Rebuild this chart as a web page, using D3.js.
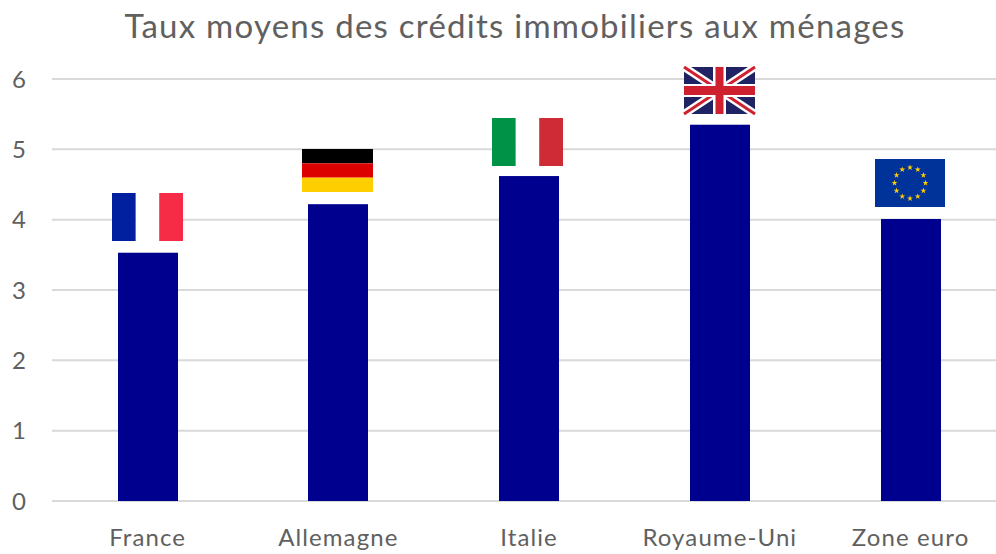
<!DOCTYPE html>
<html><head><meta charset="utf-8">
<style>html,body{margin:0;padding:0;background:#fff;overflow:hidden}svg{display:block}text{font-family:Lato,"Noto Sans",sans-serif;fill:#606060}</style>
<script src="https://cdn.jsdelivr.net/npm/d3@7"></script></head><body>
<svg id="c" width="996" height="554"></svg>
<script>
const titleText = "Taux moyens des crédits immobiliers aux ménages";
const categories = ["France","Allemagne","Italie","Royaume-Uni","Zone euro"];
const rates = [3.53,4.22,4.62,5.35,4.01];
const flags = ["fr","de","it","uk","eu"];
const yTicks = [0,1,2,3,4,5,6];

const svg = d3.select("#c");
const y = d3.scaleLinear().domain([0,6]).range([501,79]);
const x = d3.scaleBand().domain(categories).range([52.225,1005.975]);
const barW = 60, flagGap = {fr:12,de:12,it:10,uk:11,eu:12}, flagH = {fr:48,de:43,it:48,uk:47,eu:48};
const flagW = {fr:71,de:71,it:71,uk:71,eu:70}, flagDx = {fr:6,de:6,it:7,uk:6,eu:6};
const cx = c => x(c)+x.bandwidth()/2;
const barX = c => Math.round(cx(c)-barW/2);

svg.append("g").selectAll("line").data(yTicks).join("line")
  .attr("x1",52).attr("x2",996).attr("y1",d=>y(d)).attr("y2",d=>y(d))
  .attr("stroke","#d9d9d9").attr("stroke-width",2);

svg.append("g").selectAll("text").data(yTicks).join("text")
  .attr("x",19).attr("y",d=>y(d)+8.5).attr("text-anchor","middle")
  .style("font-size","24px").text(d=>d);

svg.append("g").selectAll("rect").data(categories).join("rect")
  .attr("x",barX).attr("width",barW)
  .attr("y",(c,i)=>y(rates[i])).attr("height",(c,i)=>y(0)-y(rates[i]))
  .attr("fill","#00008f");

svg.append("g").selectAll("text").data(categories).join("text")
  .attr("x",c=>cx(c)).attr("y",546).attr("text-anchor","middle")
  .style("font-size","24px").style("letter-spacing","1.1px").text(c=>c);

svg.append("text").attr("x",515).attr("y",38).attr("text-anchor","middle")
  .style("font-size","33px").style("letter-spacing","1.24px").text(titleText);

const draw = {
  fr(g,w,h){ [["#00209f",0,.335],["#fff",.335,.33],["#f62c46",.665,.335]].forEach(([f,a,b])=>g.append("rect").attr("x",a*w).attr("width",b*w).attr("height",h).attr("fill",f)); },
  de(g,w,h){ ["#000","#dd0000","#ffce00"].forEach((f,i)=>g.append("rect").attr("y",i*h/3).attr("width",w).attr("height",h/3).attr("fill",f)); },
  it(g,w,h){ [["#009246",0,.335],["#fff",.335,.33],["#ce2b37",.665,.335]].forEach(([f,a,b])=>g.append("rect").attr("x",a*w).attr("width",b*w).attr("height",h).attr("fill",f)); },
  uk(g,w,h){
    g.append("rect").attr("width",w).attr("height",h).attr("fill","#1f2263");
    const diag=(a,b,c,d,col,sw)=>g.append("line").attr("x1",a).attr("y1",b).attr("x2",c).attr("y2",d).attr("stroke",col).attr("stroke-width",sw);
    diag(0,0,w,h,"#fff",8); diag(w,0,0,h,"#fff",8);
    diag(0,0,w,h,"#cf202f",3); diag(w,0,0,h,"#cf202f",3);
    g.append("rect").attr("x",w/2-6.5).attr("width",13).attr("height",h).attr("fill","#fff");
    g.append("rect").attr("y",h/2-6.5).attr("width",w).attr("height",13).attr("fill","#fff");
    g.append("rect").attr("x",w/2-4).attr("width",8).attr("height",h).attr("fill","#cf202f");
    g.append("rect").attr("y",h/2-4.5).attr("width",w).attr("height",9).attr("fill","#cf202f");
  },
  eu(g,w,h){
    g.append("rect").attr("width",w).attr("height",h).attr("fill","#003399");
    const star=d3.symbol().type(d3.symbolStar).size(11);
    d3.range(12).forEach(i=>{const t=i*Math.PI/6;
      g.append("path").attr("d",star).attr("fill","#ffcc00")
       .attr("transform",`translate(${w/2+15.5*Math.sin(t)},${h/2-15.5*Math.cos(t)})`);});
  }
};
categories.forEach((c,i)=>{
  const k=flags[i], h=flagH[k];
  const g=svg.append("g").attr("transform",`translate(${barX(c)-flagDx[k]},${Math.round(y(rates[i]))-flagGap[k]-h})`);
  draw[k](g,flagW[k],h);
});
</script></body></html>
